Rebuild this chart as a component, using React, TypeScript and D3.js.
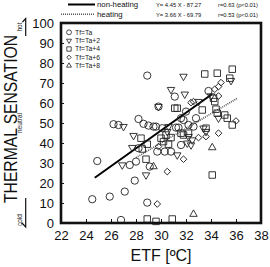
import { useEffect, useRef } from "react";
import * as d3 from "d3";

// axis ticks
const xTicks = [22, 24, 26, 28, 30, 32, 34, 36, 38];
const yTicks = [0, 10, 20, 30, 40, 50, 60, 70, 80, 90, 100];

// [ETF (ºC), thermal sensation vote] for each foot temperature condition
const tfTa: [number, number][] = [
  [24.9, 31], [24.5, 11.9], [25.9, 13.2], [27.1, 15.7], [27.9, 21.2], [26.8, 1.5],
  [28.9, 10.2], [27.5, 29], [28.0, 30.7], [26.2, 49.4], [26.6, 49], [28.2, 52],
  [28.6, 49.6], [29.0, 48.7], [29.4, 48.2], [28.9, 73.7], [31.1, 63.2], [33.8, 66],
  [29.8, 58.2], [32.0, 55.7], [31.6, 52.4], [31.8, 51.5], [29.6, 48.2], [30.1, 47.4],
  [31.2, 47.7], [31.4, 47.7], [32.2, 49], [32.6, 48.2], [31.6, 39], [29.7, 35.7],
  [30.3, 35.7], [30.8, 35.7], [28.2, 37.4], [29.1, 28.2], [32.8, 52.4],
];
const tfTa2: [number, number][] = [
  [31.8, 73.3], [30.8, 66.7], [31.9, 64.4], [35.6, 71.2], [29.8, 58.2], [27.0, 48.2],
  [27.8, 43.7], [27.7, 37.7], [26.9, 29], [28.8, 24], [30.6, 48.2], [30.5, 45.7],
  [32.2, 43.2], [32.5, 41.5], [32.1, 39.9], [32.4, 39], [33.4, 47.4], [33.6, 45.7],
  [33.0, 60.7], [34.0, 63.5], [31.3, 34], [34.6, 52.4],
];
const tfTa4: [number, number][] = [
  [33.5, 74.5], [34.5, 74.9], [35.7, 76.9], [35.5, 72.4], [31.1, 57.4], [31.3, 57.4],
  [33.3, 56.5], [34.3, 60.7], [34.4, 56.9], [34.5, 54.9], [35.1, 54], [35.3, 52.4],
  [35.7, 49], [28.4, 42.4], [28.9, 39.4], [28.5, 37], [30.4, 44], [30.8, 42.7],
  [30.0, 42.4], [30.2, 40.7], [30.6, 39.4], [31.6, 44.9], [31.8, 44], [32.2, 44.9],
  [33.6, 47.4], [28.8, 31.9], [34.1, 24], [28.9, 2], [29.6, 0.8], [30.9, 2], [34.2, 62.4],
];
const tfTa6: [number, number][] = [
  [34.8, 70.2], [34.6, 68.2], [34.3, 66.9], [34.6, 63.5], [32.4, 60.2], [32.6, 60.7],
  [36.0, 51], [34.6, 44.9], [33.0, 42.7], [33.6, 43.2], [29.8, 38.2], [31.8, 31.9],
  [30.5, 25.7], [29.7, 9.5],
];
const tfTa8: [number, number][] = [
  [34.1, 37.7], [32.6, 4.4], [29.4, 28.2],
];

const seriesNames = ["Tf=Ta", "Tf=Ta+2", "Tf=Ta+4", "Tf=Ta+6", "Tf=Ta+8"];
const seriesData = [tfTa, tfTa2, tfTa4, tfTa6, tfTa8];

// regression lines: Y = a X + b over the ETF range covered
const nonHeatingCoef = [4.45, -87.27];
const nonHeatingRange = [24.7, 34.1];
const heatingCoef = [3.66, -69.79];
const heatingRange = [28.0, 36.1];

const FONT = "'Liberation Sans', Arial, sans-serif";

const shapes = [
  { type: d3.symbolCircle, size: 42, rotate: 0 },
  { type: d3.symbolTriangle, size: 24, rotate: 180 },
  { type: d3.symbolSquare, size: 42, rotate: 0 },
  { type: d3.symbolSquare, size: 22, rotate: 45 },
  { type: d3.symbolTriangle, size: 24, rotate: 0 },
];

const App = () => {
  const svgRef = useRef<SVGSVGElement>(null);
  const width = 270;
  const height = 267;
  const margin = { left: 61, top: 23, right: 9, bottom: 44 };

  useEffect(() => {
    const svg = d3.select(svgRef.current);
    svg.selectAll("*").remove();

    const x = d3.scaleLinear().domain([22, 38]).range([margin.left, width - margin.right]);
    const y = d3.scaleLinear().domain([0, 100]).range([height - margin.bottom, margin.top]);

    // fitted lines
    const fitLine = d3.line<number>().x((d) => x(d));
    const drawFit = (coef: number[], range: number[], dotted: boolean) => {
      svg.append("path")
        .attr("d", fitLine.y((d) => y(coef[0] * d + coef[1]))(range))
        .attr("fill", "none")
        .attr("stroke", dotted ? "#555" : "#000")
        .attr("stroke-width", dotted ? 1.6 : 2)
        .attr("stroke-dasharray", dotted ? "1,1" : null);
    };
    drawFit(heatingCoef, heatingRange, true);
    drawFit(nonHeatingCoef, nonHeatingRange, false);

    // observations
    seriesData.forEach((pts, i) => {
      const s = shapes[i];
      const sym = d3.symbol().type(s.type).size(s.size);
      svg.append("g")
        .selectAll("path")
        .data(pts)
        .enter()
        .append("path")
        .attr("d", sym())
        .attr("transform", (d) => `translate(${x(d[0])},${y(d[1])}) rotate(${s.rotate})`)
        .attr("fill", "none")
        .attr("stroke", "#222")
        .attr("stroke-width", 0.9);
    });

    // axes with inward ticks
    const xAxis = svg.append("g")
      .attr("transform", `translate(0,${y(0)})`)
      .call(d3.axisBottom(x).tickValues(xTicks).tickSize(-4).tickPadding(8));
    const yAxis = svg.append("g")
      .attr("transform", `translate(${x(22)},0)`)
      .call(d3.axisLeft(y).tickValues(yTicks).tickSize(-3).tickPadding(7));
    [xAxis, yAxis].forEach((g) => {
      g.select(".domain").remove();
      g.selectAll("line").attr("stroke", "#111").attr("stroke-width", 1);
      g.selectAll("text")
        .attr("font-family", FONT)
        .attr("font-size", 13)
        .attr("fill", "#111");
    });

    // frame
    svg.append("rect")
      .attr("x", x(22))
      .attr("y", y(100))
      .attr("width", x(38) - x(22))
      .attr("height", y(0) - y(100))
      .attr("fill", "none")
      .attr("stroke", "#111")
      .attr("stroke-width", 2.6);

    // legend inside plot
    const leg = svg.append("g").attr("transform", `translate(${x(22) + 8},${y(100) + 9.3})`);
    seriesNames.forEach((name, i) => {
      const s = shapes[i];
      const row = leg.append("g").attr("transform", `translate(0,${i * 8.35})`);
      row.append("path")
        .attr("d", d3.symbol().type(s.type).size(s.size * 0.45)())
        .attr("transform", `rotate(${s.rotate})`)
        .attr("fill", "none")
        .attr("stroke", "#222")
        .attr("stroke-width", 0.8);
      row.append("text")
        .attr("x", 6)
        .attr("y", 2.4)
        .attr("font-family", FONT)
        .attr("font-size", 6.8)
        .attr("fill", "#222")
        .text(name);
    });

    // legend for the fitted lines above the plot
    const top = svg.append("g");
    top.append("line").attr("x1", 68).attr("x2", 95).attr("y1", 4.5).attr("y2", 4.5)
      .attr("stroke", "#000").attr("stroke-width", 2);
    top.append("line").attr("x1", 61).attr("x2", 95).attr("y1", 14.3).attr("y2", 14.3)
      .attr("stroke", "#555").attr("stroke-width", 1.4).attr("stroke-dasharray", "1,1");
    const topText = (tx: number, ty: number, size: number, str: string) =>
      top.append("text").attr("x", tx).attr("y", ty)
        .attr("font-family", FONT).attr("font-size", size).attr("fill", "#111").text(str);
    topText(97, 7.3, 7.8, "non-heating");
    topText(97, 16.8, 7.8, "heating");
    topText(156, 7, 5.8, `Y= ${nonHeatingCoef[0].toFixed(2)} X - ${(-nonHeatingCoef[1]).toFixed(2)}`);
    topText(156, 16.5, 5.8, `Y= ${heatingCoef[0].toFixed(2)} X - ${(-heatingCoef[1]).toFixed(2)}`);
    topText(218, 7, 5.8, "r=0.63 (p<0.01)");
    topText(218, 16.5, 5.8, "r=0.53 (p<0.01)");

    // axis titles
    svg.append("text")
      .attr("x", (x(22) + x(38)) / 2)
      .attr("y", 261)
      .attr("text-anchor", "middle")
      .attr("font-family", FONT)
      .attr("font-size", 16)
      .attr("fill", "#111")
      .text("ETF [ºC]");
    svg.append("text")
      .attr("transform", "translate(17,119) rotate(-90)")
      .attr("text-anchor", "middle")
      .attr("font-family", FONT)
      .attr("font-size", 19)
      .attr("fill", "#111")
      .attr("textLength", 168)
      .attr("lengthAdjust", "spacingAndGlyphs")
      .text("THERMAL SENSATION");

    // hot / neutral / cold markers beside the y axis
    const side = (val: number, str: string) =>
      svg.append("text")
        .attr("transform", `translate(22,${y(val)}) rotate(-90)`)
        .attr("text-anchor", "middle")
        .attr("font-family", FONT)
        .attr("font-size", 6.5)
        .attr("fill", "#222")
        .text(str);
    side(98, "hot");
    side(50, "neutral");
    side(1.5, "cold");
    svg.append("path")
      .attr("d", `M25.7,36 V18.5 L22.5,22`)
      .attr("fill", "none").attr("stroke", "#111").attr("stroke-width", 1.2);
    svg.append("path")
      .attr("d", `M25.7,198 V227 L21.5,222.5`)
      .attr("fill", "none").attr("stroke", "#111").attr("stroke-width", 1.2);
  }, []);

  return (
    <svg
      ref={svgRef}
      width={width}
      height={height}
      viewBox={`0 0 ${width} ${height}`}
      style={{ position: "absolute", left: 0, top: 0, background: "#fff" }}
    ></svg>
  );
};

export default App;
